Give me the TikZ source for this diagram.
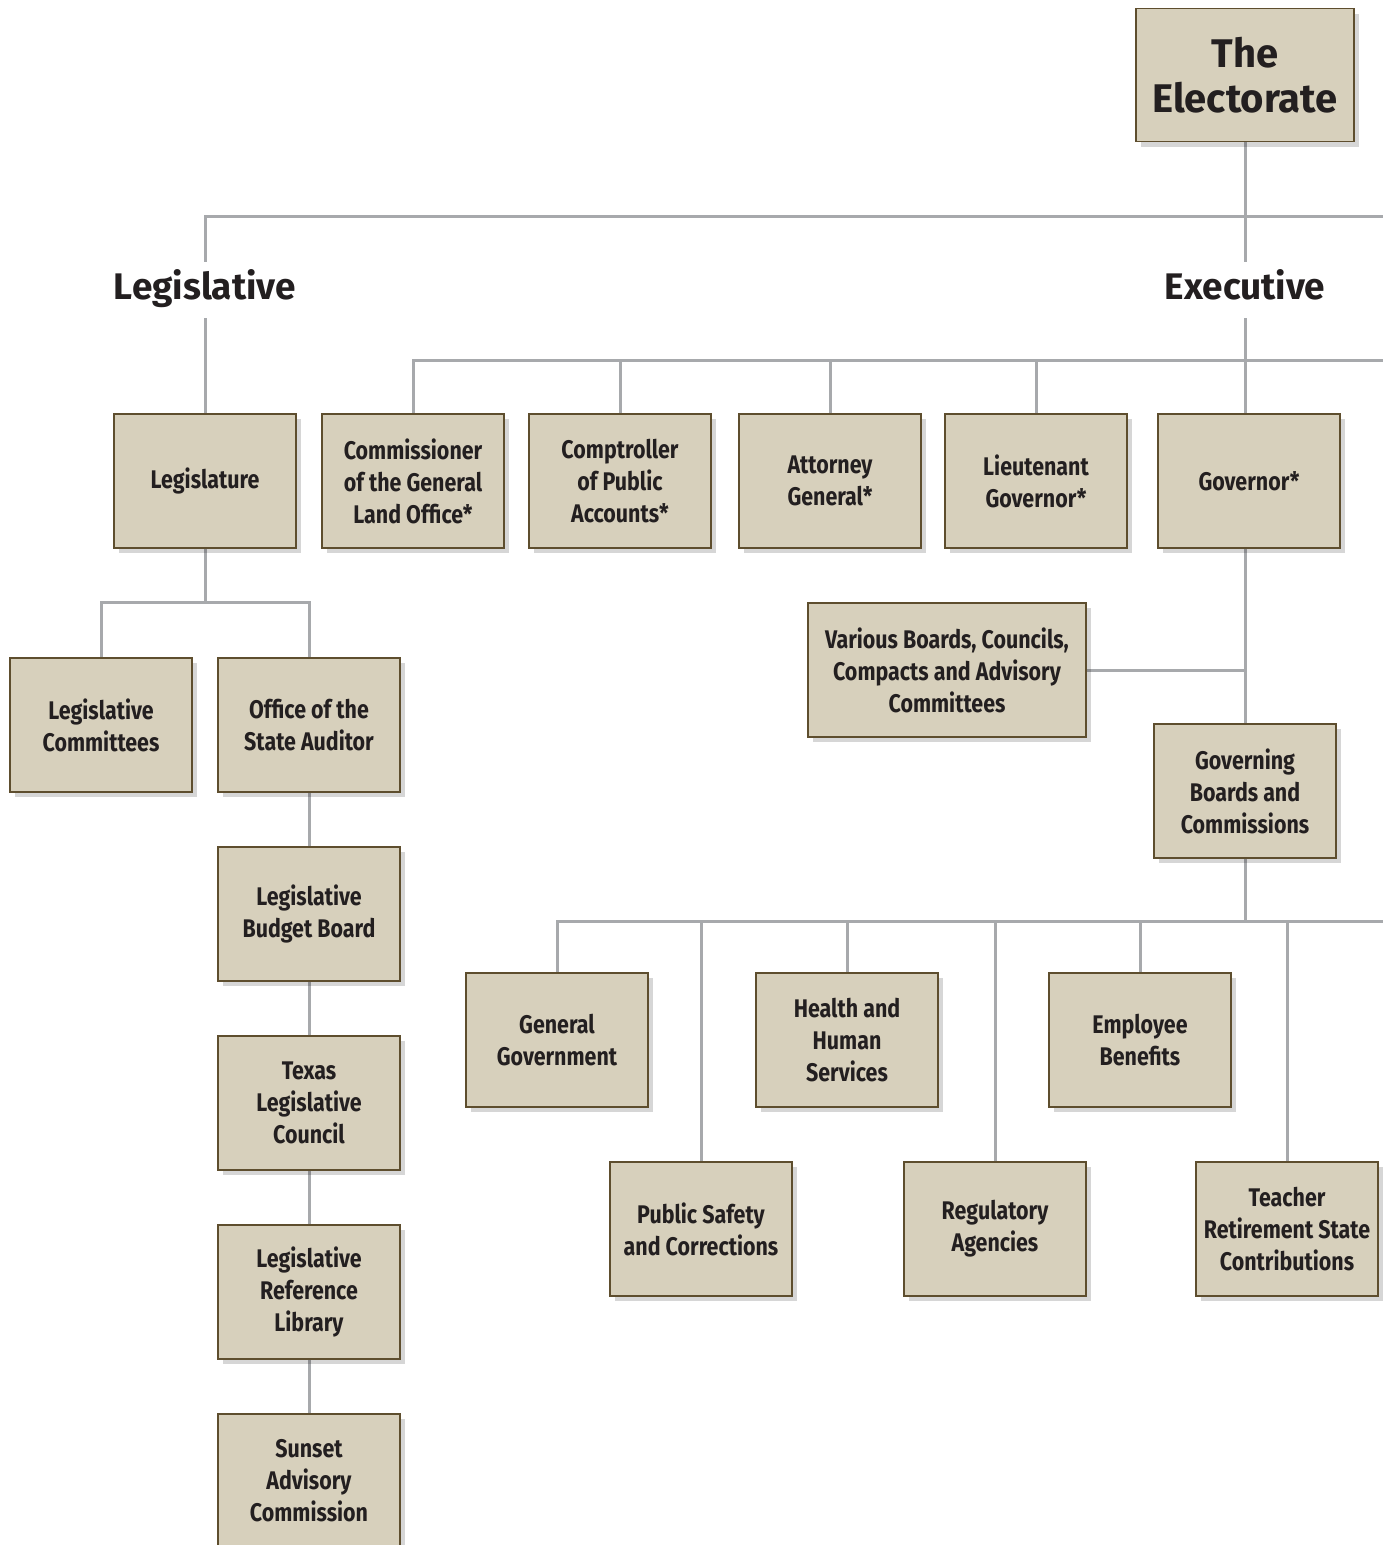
\documentclass[tikz,border=0pt]{standalone}
\usepackage{fontspec}
\newfontfamily\boxfont{Fira Sans}[FakeStretch=0.84]
\newfontfamily\headfont{Fira Sans}
\usetikzlibrary{shadows,backgrounds}
\definecolor{boxfill}{HTML}{D7D0BC}
\definecolor{boxline}{HTML}{5E4E2E}
\definecolor{connc}{HTML}{A7A9AC}
\definecolor{txt}{HTML}{231F20}
\begin{document}
\begin{tikzpicture}[x=1pt,y=-1pt,
  box/.style={draw=boxline, line width=1.5pt, fill=boxfill, minimum width=182pt, minimum height=134pt,
    align=center, inner sep=0pt, text=txt, font=\boxfont\bfseries\fontsize{25.5}{32}\selectfont,
    drop shadow={shadow xshift=5pt, shadow yshift=-5pt, fill=black, opacity=0.16}},
  conn/.style={draw=connc, line width=3pt},
  head/.style={font=\headfont\bfseries\fontsize{37}{42}\selectfont, text=txt, inner sep=0pt,
    minimum height=56pt, text height=26pt, text depth=8pt}]
\useasboundingbox (0,0) rectangle (1383,1545);

% top
\node[box, minimum width=218pt, minimum height=133pt, font=\headfont\bfseries\fontsize{40}{45}\selectfont] (elect) at (1245,75) {The\\Electorate};
\node[head] (legh) at (205,290) {Legislative};
\node[head] (exeh) at (1245,290) {Executive};

% executive row
\node[box] (leg)   at (205,481) {Legislature};
\node[box] (comm)  at (413,481) {Commissioner\\of the General\\Land Office*};
\node[box] (compt) at (620,481) {Comptroller\\of Public\\Accounts*};
\node[box] (ag)    at (830,481) {Attorney\\General*};
\node[box] (lg)    at (1036,481) {Lieutenant\\Governor*};
\node[box] (gov)   at (1249,481) {Governor*};

% legislative branch
\node[box] (lcom) at (101,725) {Legislative\\Committees};
\node[box] (osa)  at (309,725) {Office of the\\State Auditor};
\node[box] (lbb)  at (309,914) {Legislative\\Budget Board};
\node[box] (tlc)  at (309,1103) {Texas\\Legislative\\Council};
\node[box] (lrl)  at (309,1292) {Legislative\\Reference\\Library};
\node[box] (sun)  at (309,1481) {Sunset\\Advisory\\Commission};

% governor branch
\node[box, minimum width=278pt] (var) at (947,670) {Various Boards, Councils,\\Compacts and Advisory\\Committees};
\node[box] (gbc) at (1245,791) {Governing\\Boards and\\Commissions};

\node[box] (gg)  at (557,1040) {General\\Government};
\node[box] (hhs) at (847,1040) {Health and\\Human\\Services};
\node[box] (eb)  at (1140,1040) {Employee\\Benefits};
\node[box] (ps)  at (701,1229) {Public Safety\\and Corrections};
\node[box] (ra)  at (995,1229) {Regulatory\\Agencies};
\node[box] (tr)  at (1287,1229) {Teacher\\Retirement State\\Contributions};

\coordinate (topR) at (1383,216);
\coordinate (exR)  at (1383,360);
\coordinate (lj)   at (205,602);
\coordinate (gj)   at (1383,921);

\begin{scope}[on background layer]
  \draw[conn] (elect.south) -- (exeh.north);
  \draw[conn] (legh.north) |- (topR);
  \draw[conn] (legh.south) -- (leg.north);
  \draw[conn] (exeh.south) -- (exeh.south |- gov.north);
  \draw[conn] (comm.north) |- (exR);
  \draw[conn] (compt.north) -- (compt.north |- exR);
  \draw[conn] (ag.north) -- (ag.north |- exR);
  \draw[conn] (lg.north) -- (lg.north |- exR);
  % legislature
  \draw[conn] (leg.south) -- (lj);
  \draw[conn] (lcom.north) |- (osa.north |- lj) -- (osa.north);
  \draw[conn] (osa.south) -- (lbb.north);
  \draw[conn] (lbb.south) -- (tlc.north);
  \draw[conn] (tlc.south) -- (lrl.north);
  \draw[conn] (lrl.south) -- (sun.north);
  % governor
  \draw[conn] (exeh.south |- gov.south) -- (gbc.north);
  \draw[conn] (var.east) -- (var.east -| gbc.north);
  \draw[conn] (gbc.south) -- (gbc.south |- gj);
  \draw[conn] (gg.north) |- (gj);
  \draw[conn] (ps.north) -- (ps.north |- gj);
  \draw[conn] (hhs.north) -- (hhs.north |- gj);
  \draw[conn] (ra.north) -- (ra.north |- gj);
  \draw[conn] (eb.north) -- (eb.north |- gj);
  \draw[conn] (tr.north) -- (tr.north |- gj);
\end{scope}
\end{tikzpicture}
\end{document}
